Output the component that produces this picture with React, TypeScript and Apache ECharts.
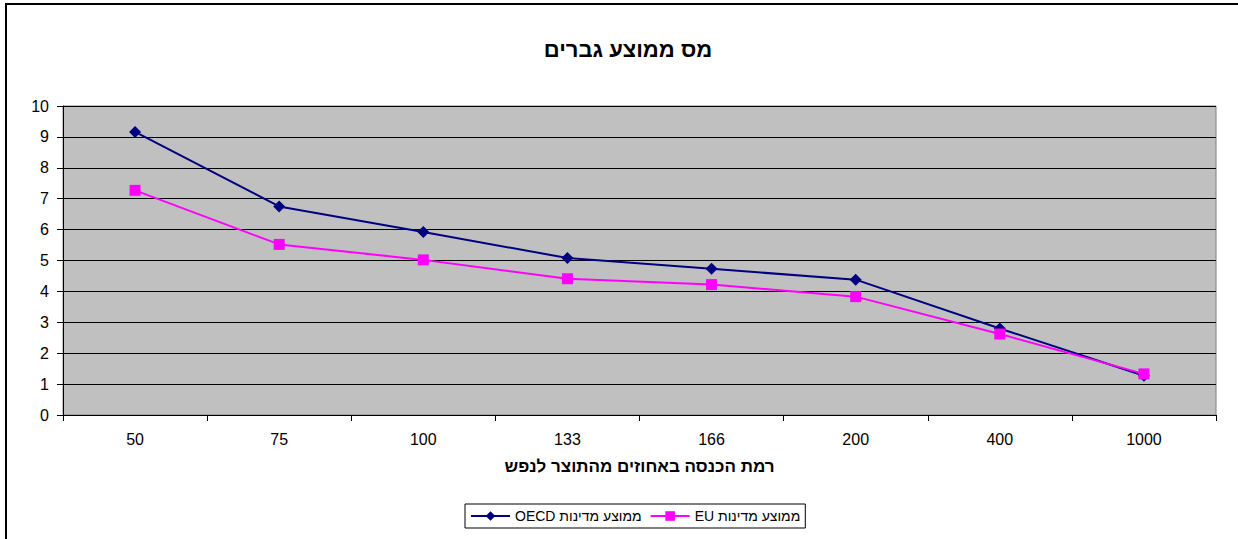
import React, { useEffect, useRef } from "react";
import * as echarts from "echarts";

const categories = ["50", "75", "100", "133", "166", "200", "400", "1000"];
const oecdValues = [9.16, 6.75, 5.92, 5.08, 4.73, 4.38, 2.8, 1.27];
const euValues = [7.27, 5.52, 5.02, 4.41, 4.22, 3.83, 2.62, 1.33];
const seriesNames = ["\u202Bממוצע מדינות OECD\u202C", "\u202Bממוצע מדינות EU\u202C"];
const titleText = "מס ממוצע גברים";
const xAxisTitle = "רמת הכנסה באחוזים מהתוצר לנפש";

const FONT = "Arial, 'Liberation Sans', sans-serif";

export default function App() {
  const ref = useRef<HTMLDivElement>(null);
  useEffect(() => {
    if (!ref.current) return;
    const chart = echarts.init(ref.current, undefined, { renderer: "svg" });
    chart.setOption({
      animation: false,
      backgroundColor: "#ffffff",
      textStyle: { fontFamily: FONT },
      graphic: [
        {
          type: "rect",
          shape: { x: 6, y: 4, width: 1260, height: 560 },
          style: { fill: "none", stroke: "#000", lineWidth: 2 },
          z: 100,
          silent: true,
        },
      ],
      title: {
        text: titleText,
        left: 623,
        textAlign: "center",
        top: 33,
        textStyle: { fontFamily: FONT, fontSize: 22, fontWeight: "bold", color: "#000" },
      },
      legend: {
        bottom: 11,
        left: 465,
        itemWidth: 39,
        itemHeight: 12,
        itemGap: 8,
        padding: [5, 5, 5, 5],
        borderColor: "#000",
        borderWidth: 1,
        textStyle: { fontFamily: FONT, fontSize: 14, color: "#000" },
        data: seriesNames,
      },
      grid: {
        left: 63,
        right: 22,
        top: 106,
        bottom: 124,
        show: true,
        backgroundColor: "#C0C0C0",
        borderColor: "#808080",
        borderWidth: 1,
      },
      xAxis: {
        type: "category",
        data: categories,
        boundaryGap: true,
        name: xAxisTitle,
        nameLocation: "middle",
        nameGap: 43,
        nameTextStyle: { fontFamily: FONT, fontSize: 17, fontWeight: "bold", color: "#000" },
        axisLine: { lineStyle: { color: "#000", width: 1 } },
        axisTick: { show: true, length: 6, lineStyle: { color: "#000" } },
        axisLabel: { fontFamily: FONT, fontSize: 16, color: "#000", margin: 16 },
        splitLine: { show: false },
      },
      yAxis: {
        type: "value",
        min: 0,
        max: 10,
        interval: 1,
        axisLine: { show: true, lineStyle: { color: "#000", width: 1 } },
        axisTick: { show: true, length: 6, lineStyle: { color: "#000" } },
        axisLabel: { fontFamily: FONT, fontSize: 16, color: "#000", margin: 14 },
        splitLine: { show: true, lineStyle: { color: "#000", width: 1 } },
      },
      series: [
        {
          name: seriesNames[0],
          type: "line",
          data: oecdValues,
          symbol: "diamond",
          symbolSize: 12,
          color: "#000080",
          lineStyle: { color: "#000080", width: 2 },
          itemStyle: { color: "#000080" },
          z: 3,
        },
        {
          name: seriesNames[1],
          type: "line",
          data: euValues,
          symbol: "rect",
          symbolSize: 11,
          color: "#FF00FF",
          lineStyle: { color: "#FF00FF", width: 2 },
          itemStyle: { color: "#FF00FF" },
          z: 4,
        },
      ],
    });
    return () => chart.dispose();
  }, []);
  return (
    <div
      ref={ref}
      style={{ position: "absolute", left: 0, top: 0, width: 1238, height: 539 }}
    />
  );
}
